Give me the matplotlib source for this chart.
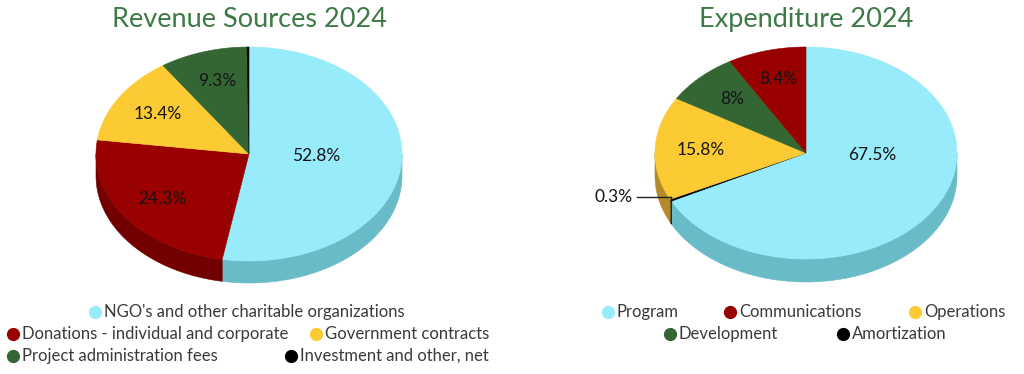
import matplotlib.pyplot as plt
import numpy as np
from matplotlib.patches import Polygon

# data
rev_labels = ["NGO's and other charitable organizations", "Donations - individual and corporate",
              "Government contracts", "Project administration fees", "Investment and other, net"]
rev_values = [52.8, 24.3, 13.4, 9.3, 0.2]

exp_labels = ["Program", "Communications", "Operations", "Development", "Amortization"]
exp_values = [67.5, 8.4, 15.8, 8.0, 0.3]
exp_order = [0, 4, 2, 3, 1]  # clockwise drawing order from 12 o'clock

# colours: top face, side wall
c_cyan, s_cyan = "#98EBFA", "#69BBC8"
c_red, s_red = "#990000", "#730000"
c_yel, s_yel = "#FCCB34", "#B48B2B"
c_grn, s_grn = "#336633", "#264D26"
c_blk, s_blk = "#000000", "#000000"

rev_colors = [(c_cyan, s_cyan), (c_red, s_red), (c_yel, s_yel), (c_grn, s_grn), (c_blk, s_blk)]
exp_colors = [(c_cyan, s_cyan), (c_red, s_red), (c_yel, s_yel), (c_grn, s_grn), (c_blk, s_blk)]

plt.rcParams['font.family'] = ['Lato', 'DejaVu Sans']
TITLE_COLOR = "#3D7A45"
TEXT_COLOR = "#3A3A3A"

fig = plt.figure(figsize=(10.24, 3.74), dpi=100)
ax = fig.add_axes([0, 0, 1, 1])
ax.set_xlim(0, 1024)
ax.set_ylim(374, 0)
ax.axis("off")


def ell(cx, cy, a, b, t):
    r = np.radians(t)
    return cx + a * np.cos(r), cy - b * np.sin(r)


def draw_pie(values, colors, cx, cy, a, b, depth, outside=()):
    total = float(sum(values))
    start = 90.0
    wedges = []
    for v, (top, side) in zip(values, colors):
        ext = 360.0 * v / total
        wedges.append((start - ext, start, top, side, v))
        start -= ext
    # side walls (front half only)
    for t1, t2, top, side, v in wedges:
        lo, hi = max(t1, -180), min(t2, 0)
        if hi <= lo:
            continue
        ts = np.linspace(lo, hi, 80)
        x, y = ell(cx, cy, a, b, ts)
        pts = np.concatenate([np.c_[x, y], np.c_[x, y + depth][::-1]])
        ax.add_patch(Polygon(pts, closed=True, fc=side, ec=side, lw=0.4))
    # top faces
    for t1, t2, top, side, v in wedges:
        ts = np.linspace(t1, t2, 120)
        x, y = ell(cx, cy, a, b, ts)
        pts = np.concatenate([[[cx, cy]], np.c_[x, y]])
        ax.add_patch(Polygon(pts, closed=True, fc=top, ec=top, lw=0.4))
    # labels
    for t1, t2, top, side, v in wedges:
        frac = v / total
        txt = f"{v:g}%"
        mid = (t1 + t2) / 2
        if frac > 0.5:
            ax.text(cx + 0.44 * a, cy + 2, txt, ha="center", va="center",
                    fontsize=12.5, color="#151515")
        elif frac >= 0.02:
            x, y = ell(cx, cy, 0.7 * a, 0.72 * b, mid)
            ax.text(x, y, txt, ha="center", va="center", fontsize=12.5, color="#151515")
        elif v in outside:
            x, y = ell(cx, cy, a, b, mid)
            x0 = cx - a - 18
            ax.plot([x, x0], [y - 3, y - 3], color="#222222", lw=1)
            ax.plot([x, x], [y - 3, y + 2], color="#222222", lw=1)
            ax.text(x0 - 4, y - 3, txt, ha="right", va="center", fontsize=12.5, color="#151515")


draw_pie(rev_values, rev_colors, 249, 154, 153, 107, 22)
draw_pie([exp_values[i] for i in exp_order], [exp_colors[i] for i in exp_order],
         806, 153, 151, 106, 23, outside=(0.3,))

ax.text(249, 19, "Revenue Sources 2024", ha="center", va="center", fontsize=19.5, color=TITLE_COLOR)
ax.text(806, 19, "Expenditure 2024", ha="center", va="center", fontsize=19.5, color=TITLE_COLOR)


def legend_item(x, y, color, label):
    ax.plot([x], [y], "o", ms=8.5, color=color, mec=color)
    ax.text(x + 9, y, label, ha="left", va="center", fontsize=12, color=TEXT_COLOR)


rev_pos = [(95, 312), (13, 334), (316, 334), (13, 356), (291, 356)]
for (x, y), (top, side), lab in zip(rev_pos, rev_colors, rev_labels):
    legend_item(x, y, top, lab)

exp_pos = [(608, 312), (730, 312), (915, 312), (670, 334), (843, 334)]
for (x, y), (top, side), lab in zip(exp_pos, exp_colors, exp_labels):
    legend_item(x, y, top, lab)

plt.savefig("out.png", dpi=100)
